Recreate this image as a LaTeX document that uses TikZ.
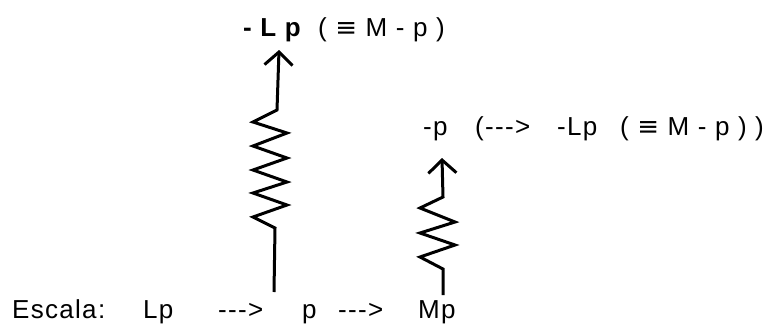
\documentclass[tikz,border=0pt]{standalone}
\usepackage{fontspec}
\setmainfont{Liberation Sans}
\newfontfamily\symfont{DejaVu Sans}
\usetikzlibrary{arrows.meta}
\begin{document}
\begin{tikzpicture}[x=1pt,y=-1pt,
  lbl/.style={anchor=base west,inner sep=0pt,font=\fontsize{26}{30}\selectfont\addfontfeature{LetterSpace=5}},
  spring/.style={line width=3pt,line join=miter},
  up/.style={-{Straight Barb[length=13pt,width=28pt,line width=3pt]}}]
\useasboundingbox (0,0) rectangle (766,333);
% scale at the bottom
\node[lbl] (esc) at (12,318) {Escala:};
\node[lbl] (lp) at (143,318) {Lp};
\node[lbl] (to1) at (218,318) {-{}-{}->};
\node[lbl] (p) at (302,318) {p};
\node[lbl] (to2) at (338,318) {-{}-{}->};
\node[lbl] (mp) at (418,318) {Mp};
% top label
\node[lbl,font=\fontsize{26}{30}\selectfont\bfseries\addfontfeature{LetterSpace=5}] (mlp) at (243,36) {- L p};
\node[lbl] (mlpeq) at (318,36) {( {\symfont ≡} M - p )};
% right label
\node[lbl] (mp1) at (423,135) {-p};
\node[lbl] (to3) at (475,135) {(-{}-{}->};
\node[lbl] (mlp2) at (557,135) {-Lp};
\node[lbl] (mlpeq2) at (620,135) {( {\symfont ≡} M - p ) )};
% springs
\coordinate (lbot) at (274,292);
\coordinate (rbot) at (443,295);
\draw[spring,up] (lbot) -- ++(1,-64) -- ++(-22,-11) -- ++(34,-12) -- ++(-34,-12) -- ++(34,-11)
  -- ++(-34,-12) -- ++(34,-12) -- ++(-34,-12) -- ++(34,-13) -- ++(-34,-11) -- ++(24,-12) -- ++(2,-60);
\draw[spring,up] (rbot) -- ++(0,-26) -- ++(-23,-12) -- ++(35,-12) -- ++(-35,-12) -- ++(35,-11)
  -- ++(-35,-14) -- ++(23,-11) -- ++(-1,-39);
\end{tikzpicture}
\end{document}
